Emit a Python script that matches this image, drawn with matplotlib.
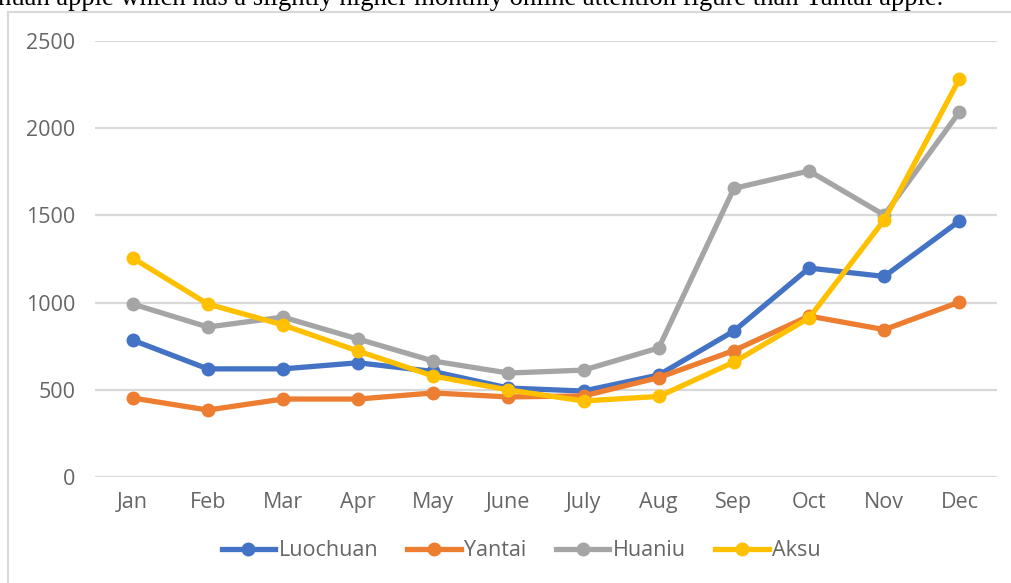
import matplotlib.pyplot as plt
from matplotlib.lines import Line2D

months = ['Jan', 'Feb', 'Mar', 'Apr', 'May', 'June', 'July', 'Aug', 'Sep', 'Oct', 'Nov', 'Dec']
luochuan = [785, 620, 620, 655, 605, 510, 493, 585, 837, 1198, 1150, 1468]
yantai = [453, 384, 447, 447, 482, 459, 465, 570, 725, 923, 845, 1003]
huaniu = [992, 860, 917, 791, 665, 596, 613, 740, 1655, 1755, 1502, 2093]
aksu = [1256, 992, 872, 722, 579, 499, 436, 462, 659, 912, 1474, 2282]

names = ['Luochuan', 'Yantai', 'Huaniu', 'Aksu']
colors = ['#4472C4', '#ED7D31', '#A5A5A5', '#FFC000']
series = [luochuan, yantai, huaniu, aksu]

plt.rcParams['font.family'] = ['Open Sans', 'DejaVu Sans']

fig = plt.figure(figsize=(10.12, 5.83), dpi=100)
ax = fig.add_axes([95/1012, 1 - 477/583, (997 - 95)/1012, (477 - 41)/583])

x = list(range(len(months)))
for vals, name, c in zip(series, names, colors):
    ax.plot(x, vals, color=c, lw=3.8, marker='o', ms=9, label=name,
            solid_capstyle='round', clip_on=False)

ax.set_xlim(-0.5, 11.5)
ax.set_ylim(0, 2500)
ax.set_yticks([0, 500, 1000, 1500, 2000, 2500])
ax.set_xticks(x)
ax.set_xticklabels(months)
ax.grid(axis='y', color='#D9D9D9', lw=1.6)
ax.set_axisbelow(True)
for s in ax.spines.values():
    s.set_visible(False)
ax.tick_params(length=0, labelsize=15.5, labelcolor='#666666')
ax.tick_params(axis='y', pad=14)
ax.tick_params(axis='x', pad=11)

handles = [Line2D([], [], color=c, lw=3.8, marker='o', ms=9) for c in colors]
fig.legend(handles, names, loc='center', bbox_to_anchor=(521/1012, 1 - 551/583),
           ncol=4, frameon=False, fontsize=15.5, labelcolor='#666666',
           handlelength=2.5, handletextpad=0.15, columnspacing=1.35)

# chart frame (left and top edges visible in the crop)
fig.add_artist(Line2D([8/1012, 8/1012], [0, 1 - 12/583], color='#D9D9D9', lw=1.5))
fig.add_artist(Line2D([8/1012, 1], [1 - 12/583, 1 - 12/583], color='#D9D9D9', lw=1.5))

fig.text(-2/1012, 1 - 5/583,
         'huan apple which has a slightly higher monthly online attention figure than Yantai apple.',
         family=['Liberation Serif'], fontsize=19.2, va='baseline', ha='left', color='black')

fig.savefig('out.png', dpi=100)
